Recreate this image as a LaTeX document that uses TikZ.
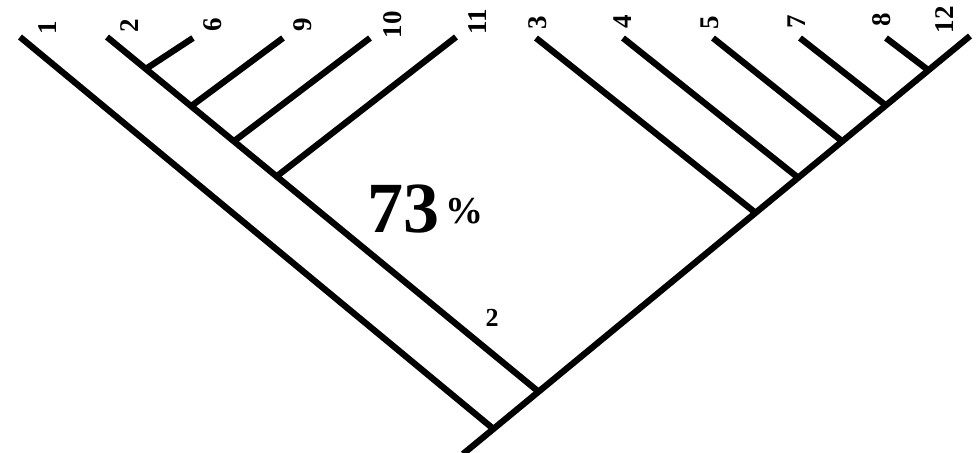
\documentclass[tikz,border=0pt]{standalone}
\usepackage{fontspec}
\setmainfont{Liberation Serif}
\usetikzlibrary{calc}
\begin{document}
\begin{tikzpicture}[x=1pt,y=-1pt,
  branch/.style={line width=6.3pt,black},
  tiplabel/.style={font=\bfseries\fontsize{27}{27}\selectfont,rotate=90,inner sep=0pt},
  biglabel/.style={font=\bfseries\fontsize{72}{72}\selectfont,inner sep=0pt},
  pctlabel/.style={font=\bfseries\fontsize{38}{38}\selectfont,inner sep=0pt},
  supportlabel/.style={font=\bfseries\fontsize{26}{26}\selectfont,inner sep=0pt}]
\useasboundingbox (0,0) rectangle (976,452);
% main right line
\coordinate (r0) at (463,454);
\coordinate (t12) at (970,36);
\coordinate (j1) at ($(r0)!0.060!(t12)$);
\coordinate (j2) at ($(r0)!0.149!(t12)$);
\coordinate (j3) at ($(r0)!0.577!(t12)$);
\coordinate (j4) at ($(r0)!0.661!(t12)$);
\coordinate (j5) at ($(r0)!0.748!(t12)$);
\coordinate (j7) at ($(r0)!0.834!(t12)$);
\coordinate (j8) at ($(r0)!0.918!(t12)$);
% left clade
\coordinate (t1) at (20,37);
\coordinate (t2) at (107,37);
\coordinate (j11) at ($(j2)!0.607!(t2)$);
\coordinate (j10) at ($(j2)!0.706!(t2)$);
\coordinate (j9) at ($(j2)!0.805!(t2)$);
\coordinate (j6) at ($(j2)!0.910!(t2)$);
\coordinate (t6) at (193,38);
\coordinate (t9) at (283,38);
\coordinate (t10) at (370,38);
\coordinate (t11) at (456,37);
% right clade tips
\coordinate (t3) at (536,38);
\coordinate (t4) at (623,38);
\coordinate (t5) at (713,38);
\coordinate (t7) at (800,38);
\coordinate (t8) at (886,38);
% branches
\draw[branch] (r0) -- (t12);
\draw[branch] (j1) -- (t1);
\draw[branch] (j2) -- (t2);
\draw[branch] (j11) -- (t11);
\draw[branch] (j10) -- (t10);
\draw[branch] (j9) -- (t9);
\draw[branch] (j6) -- (t6);
\draw[branch] (j3) -- (t3);
\draw[branch] (j4) -- (t4);
\draw[branch] (j5) -- (t5);
\draw[branch] (j7) -- (t7);
\draw[branch] (j8) -- (t8);
% tip labels
\node[tiplabel] (l1) at (48,28) {1};
\node[tiplabel] (l2) at (130,26) {2};
\node[tiplabel] (l6) at (213,25) {6};
\node[tiplabel] (l9) at (303,25) {9};
\node[tiplabel] (l10) at (393,25) {10};
\node[tiplabel] (l11) at (478,22) {11};
\node[tiplabel] (l3) at (538,23) {3};
\node[tiplabel] (l4) at (623,22) {4};
\node[tiplabel] (l5) at (710,23) {5};
\node[tiplabel] (l7) at (797,22) {7};
\node[tiplabel] (l8) at (882,20) {8};
\node[tiplabel] (l12) at (945,20) {12};
% support labels
\node[biglabel] (n73) at (403,209) {73};
\node[pctlabel] (pct) at (464,211) {\%};
\node[supportlabel] (s2) at (492,318) {2};
\end{tikzpicture}
\end{document}
